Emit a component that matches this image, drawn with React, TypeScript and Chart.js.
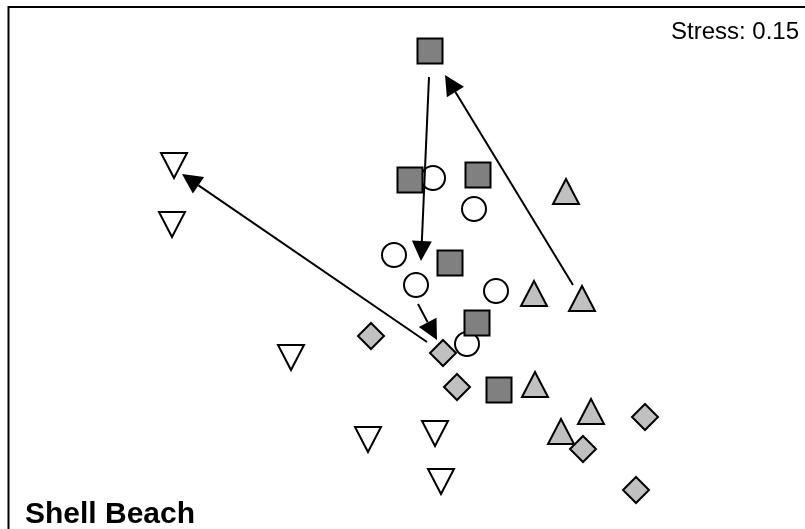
import React, { useEffect, useRef } from "react";
import { Chart, registerables } from "chart.js";

Chart.register(...registerables);

// MDS ordination coordinates (arbitrary units)
const squaresX = [0.15, 0.05, 0.39, 0.25, 0.385, 0.495];
const squaresY = [1.065, 0.42, 0.445, 0.005, -0.295, -0.63];

const circlesX = [0.165, 0.37, -0.03, 0.08, 0.48, 0.335];
const circlesY = [0.43, 0.275, 0.045, -0.105, -0.135, -0.4];

const upTriX = [0.83, 0.67, 0.91, 0.675, 0.955, 0.805];
const upTriY = [0.365, -0.145, -0.17, -0.6, -0.735, -0.835];

const diamondsX = [-0.145, 0.215, 0.285, 1.225, 0.915, 1.18];
const diamondsY = [-0.36, -0.445, -0.615, -0.765, -0.925, -1.13];

const downTriX = [-1.13, -1.14, -0.545, -0.16, 0.175, 0.205];
const downTriY = [0.49, 0.195, -0.47, -0.88, -0.85, -1.09];

// arrows: from (x,y) -> to (x,y)
const arrowFromX = [0.145, 0.865, 0.135, 0.09];
const arrowFromY = [0.935, -0.105, -0.39, -0.2];
const arrowToX = [0.105, 0.225, -1.09, 0.185];
const arrowToY = [0.015, 0.945, 0.45, -0.38];

const stressLabel = "Stress: 0.15";
const siteLabel = "Shell Beach";

const zip = (xs: number[], ys: number[]) => xs.map((x, i) => ({ x, y: ys[i] }));

function makeShape(kind: string, fill: string): HTMLCanvasElement {
  const c = document.createElement("canvas");
  c.width = 36;
  c.height = 36;
  const ctx = c.getContext("2d")!;
  ctx.translate(18, 18);
  ctx.lineWidth = 2;
  ctx.strokeStyle = "#000";
  ctx.fillStyle = fill;
  ctx.lineJoin = "miter";
  ctx.beginPath();
  if (kind === "square") {
    ctx.rect(-12.5, -12.5, 25, 25);
  } else if (kind === "circle") {
    ctx.arc(0, 0, 12, 0, Math.PI * 2);
  } else if (kind === "diamond") {
    ctx.moveTo(0, -13);
    ctx.lineTo(13, 0);
    ctx.lineTo(0, 13);
    ctx.lineTo(-13, 0);
    ctx.closePath();
  } else if (kind === "up") {
    ctx.moveTo(0, -12);
    ctx.lineTo(13, 13);
    ctx.lineTo(-13, 13);
    ctx.closePath();
  } else if (kind === "down") {
    ctx.moveTo(0, 12);
    ctx.lineTo(13, -13);
    ctx.lineTo(-13, -13);
    ctx.closePath();
  }
  ctx.fill();
  ctx.stroke();
  return c;
}

export default function App() {
  const ref = useRef<HTMLCanvasElement>(null);

  useEffect(() => {
    if (!ref.current) return;
    const squareImg = makeShape("square", "#808080");
    const circleImg = makeShape("circle", "#ffffff");
    const upImg = makeShape("up", "#c0c0c0");
    const diamondImg = makeShape("diamond", "#c0c0c0");
    const downImg = makeShape("down", "#ffffff");

    const overlay = {
      id: "overlay",
      afterDatasetsDraw(chart: any) {
        const ctx = chart.ctx as CanvasRenderingContext2D;
        const xs = chart.scales.x;
        const ys = chart.scales.y;
        ctx.save();
        ctx.strokeStyle = "#000";
        ctx.fillStyle = "#000";
        ctx.lineWidth = 2;
        for (let i = 0; i < arrowFromX.length; i++) {
          const x1 = xs.getPixelForValue(arrowFromX[i]);
          const y1 = ys.getPixelForValue(arrowFromY[i]);
          const x2 = xs.getPixelForValue(arrowToX[i]);
          const y2 = ys.getPixelForValue(arrowToY[i]);
          const ang = Math.atan2(y2 - y1, x2 - x1);
          const len = 20;
          const hw = 10;
          const bx = x2 - Math.cos(ang) * len;
          const by = y2 - Math.sin(ang) * len;
          ctx.beginPath();
          ctx.moveTo(x1, y1);
          ctx.lineTo(bx, by);
          ctx.stroke();
          ctx.beginPath();
          ctx.moveTo(x2, y2);
          ctx.lineTo(bx + Math.sin(ang) * hw, by - Math.cos(ang) * hw);
          ctx.lineTo(bx - Math.sin(ang) * hw, by + Math.cos(ang) * hw);
          ctx.closePath();
          ctx.fill();
        }
        // frame (top and left edges visible)
        ctx.beginPath();
        ctx.moveTo(8.5, chart.height + 2);
        ctx.lineTo(8.5, 7);
        ctx.lineTo(chart.width + 2, 7);
        ctx.stroke();
        // labels
        ctx.fillStyle = "#000";
        ctx.textBaseline = "alphabetic";
        ctx.textAlign = "left";
        ctx.font = "24px 'Liberation Sans', Arial, sans-serif";
        ctx.fillText(stressLabel, 671, 39);
        ctx.font = "bold 30px 'Liberation Sans', Arial, sans-serif";
        ctx.fillText(siteLabel, 25, 523);
        ctx.restore();
      },
    };

    const mk = (label: string, xs: number[], ys: number[], img: HTMLCanvasElement) => ({
      label,
      data: zip(xs, ys),
      pointStyle: img,
      pointRadius: 14,
      pointHoverRadius: 14,
      clip: false,
    });

    const chart = new Chart(ref.current, {
      type: "scatter",
      data: {
        datasets: [
          mk("Squares", squaresX, squaresY, squareImg),
          mk("Circles", circlesX, circlesY, circleImg),
          mk("Up triangles", upTriX, upTriY, upImg),
          mk("Diamonds", diamondsX, diamondsY, diamondImg),
          mk("Down triangles", downTriX, downTriY, downImg),
        ] as any,
      },
      options: {
        animation: false,
        responsive: false,
        devicePixelRatio: 1,
        layout: { padding: 0, autoPadding: false },
        events: [],
        plugins: { legend: { display: false }, tooltip: { enabled: false } },
        scales: {
          x: { type: "linear", display: false, min: -2, max: 2.025 },
          y: { type: "linear", display: false, min: -1.325, max: 1.32 },
        },
      },
      plugins: [overlay],
    });
    return () => chart.destroy();
  }, []);

  return (
    <div style={{ position: "fixed", left: 0, top: 0, width: 805, height: 529, background: "#fff" }}>
      <canvas ref={ref} width={805} height={529} style={{ display: "block" }} />
    </div>
  );
}
